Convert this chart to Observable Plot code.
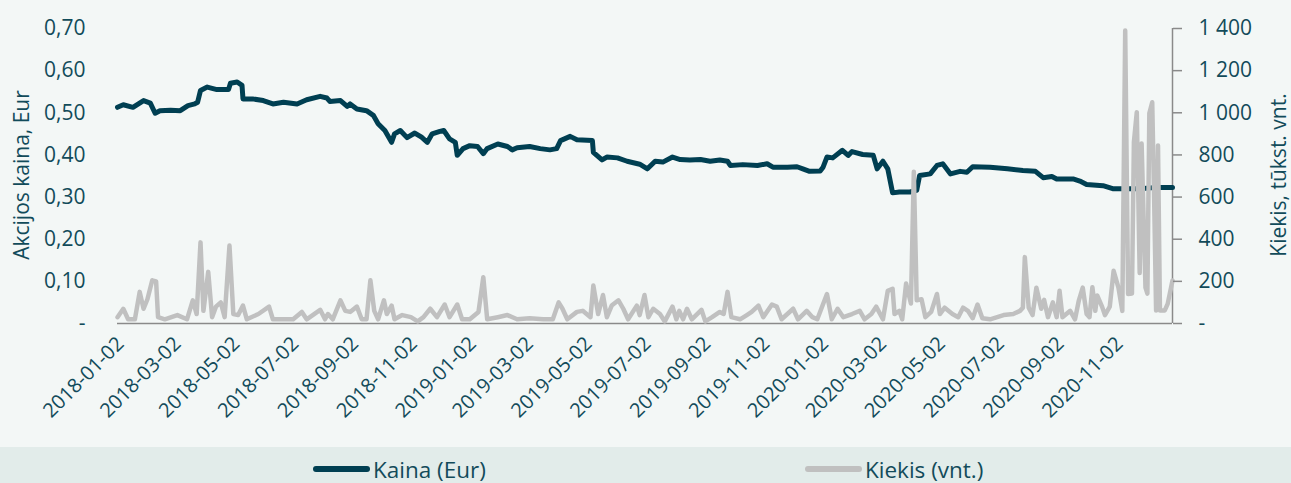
<!DOCTYPE html>
<html><head><meta charset="utf-8">
<script src="https://cdn.jsdelivr.net/npm/d3@7"></script>
<script src="https://cdn.jsdelivr.net/npm/@observablehq/plot@0.6"></script>
<style>
html,body{margin:0;padding:0;background:#f3f7f6;}
#wrap{position:relative;width:1291px;height:483px;overflow:hidden;font-family:"Open Sans",sans-serif;color:#124b5a;}
#chart svg{display:block;background:transparent;}
#legend{position:absolute;left:0;top:447px;width:1291px;height:36px;background:#e2ecea;}
.item{position:absolute;top:4px;height:36px;display:flex;align-items:center;font-size:22.5px;white-space:nowrap;}
.sw{width:57px;height:6px;border-radius:3px;margin-right:3px;}
.ytitle{position:absolute;white-space:nowrap;font-size:21px;line-height:1;transform:translate(-50%,-50%) rotate(-90deg);}
</style></head>
<body><div id="wrap"><div id="chart"></div>
<div class="ytitle" id="tl" style="left:21px;top:175px"></div>
<div class="ytitle" id="tr" style="left:1278px;top:175px"></div>
<div id="legend"></div></div>
<script>
// ---- data ----
const seriesNames = ["Kaina (Eur)", "Kiekis (vnt.)"];
const leftTitle = "Akcijos kaina, Eur";
const rightTitle = "Kiekis, tūkst. vnt.";
const xTickDates = ["2018-01-02","2018-03-02","2018-05-02","2018-07-02","2018-09-02","2018-11-02","2019-01-02","2019-03-02","2019-05-02","2019-07-02","2019-09-02","2019-11-02","2020-01-02","2020-03-02","2020-05-02","2020-07-02","2020-09-02","2020-11-02"];
const xDomain = ["2018-01-02","2020-12-30"];
const priceTicks = [0,0.1,0.2,0.3,0.4,0.5,0.6,0.7];
const volumeTicks = [0,200,400,600,800,1000,1200,1400];

const priceDates = ["2018-01-02","2018-01-08","2018-01-18","2018-01-29","2018-02-05","2018-02-10","2018-02-15","2018-02-26","2018-03-08","2018-03-16","2018-03-23","2018-03-26","2018-03-29","2018-04-05","2018-04-15","2018-04-27","2018-04-29","2018-05-06","2018-05-11","2018-05-12","2018-05-22","2018-06-02","2018-06-12","2018-06-23","2018-07-07","2018-07-17","2018-07-31","2018-08-07","2018-08-10","2018-08-21","2018-08-28","2018-08-31","2018-09-07","2018-09-17","2018-09-24","2018-09-29","2018-10-06","2018-10-13","2018-10-16","2018-10-22","2018-10-29","2018-11-06","2018-11-13","2018-11-19","2018-11-24","2018-12-02","2018-12-06","2018-12-12","2018-12-18","2018-12-20","2018-12-26","2019-01-02","2019-01-10","2019-01-16","2019-01-20","2019-01-31","2019-02-10","2019-02-15","2019-02-20","2019-03-05","2019-03-16","2019-03-26","2019-04-02","2019-04-06","2019-04-16","2019-04-23","2019-05-09","2019-05-10","2019-05-19","2019-05-24","2019-06-04","2019-06-14","2019-06-27","2019-07-05","2019-07-13","2019-07-21","2019-07-31","2019-08-08","2019-08-18","2019-08-29","2019-09-08","2019-09-18","2019-09-26","2019-09-29","2019-10-12","2019-10-27","2019-11-06","2019-11-12","2019-11-27","2019-12-07","2019-12-13","2019-12-20","2019-12-31","2020-01-03","2020-01-07","2020-01-13","2020-01-23","2020-01-29","2020-02-02","2020-02-13","2020-02-24","2020-02-28","2020-03-05","2020-03-10","2020-03-15","2020-03-22","2020-04-02","2020-04-09","2020-04-12","2020-04-23","2020-04-30","2020-05-06","2020-05-14","2020-05-24","2020-05-31","2020-06-06","2020-06-24","2020-07-12","2020-07-28","2020-08-10","2020-08-18","2020-08-27","2020-09-01","2020-09-18","2020-09-25","2020-10-02","2020-10-19","2020-10-29","2020-11-09","2020-11-26","2020-12-14","2020-12-30"];
const priceValues = [0.513,0.519,0.513,0.529,0.523,0.499,0.505,0.506,0.505,0.517,
0.521,0.525,0.553,0.561,0.555,0.555,0.570,0.573,0.565,0.533,
0.533,0.529,0.521,0.525,0.521,0.531,0.539,0.535,0.527,0.529,
0.515,0.521,0.509,0.505,0.494,0.474,0.458,0.430,0.450,0.458,
0.441,0.452,0.442,0.430,0.450,0.456,0.458,0.438,0.430,0.399,
0.415,0.422,0.420,0.403,0.415,0.426,0.420,0.412,0.417,0.420,
0.415,0.412,0.415,0.434,0.444,0.436,0.434,0.406,0.388,0.395,
0.393,0.385,0.378,0.367,0.385,0.383,0.395,0.389,0.388,0.389,
0.385,0.388,0.385,0.375,0.377,0.375,0.379,0.371,0.371,0.372,
0.367,0.361,0.362,0.371,0.395,0.393,0.411,0.399,0.408,0.401,
0.399,0.367,0.385,0.367,0.310,0.312,0.312,0.316,0.351,0.355,
0.375,0.379,0.355,0.361,0.359,0.372,0.371,0.367,0.363,0.361,
0.346,0.349,0.343,0.343,0.338,0.330,0.327,0.320,0.320,0.320,
0.323,0.323];

const volumeDates = ["2018-01-02","2018-01-08","2018-01-13","2018-01-20","2018-01-25","2018-01-29","2018-02-02","2018-02-07","2018-02-11","2018-02-13","2018-02-20","2018-03-05","2018-03-15","2018-03-21","2018-03-25","2018-03-29","2018-04-01","2018-04-06","2018-04-10","2018-04-14","2018-04-19","2018-04-23","2018-04-28","2018-05-02","2018-05-07","2018-05-12","2018-05-16","2018-05-28","2018-06-08","2018-06-12","2018-06-23","2018-07-03","2018-07-12","2018-07-17","2018-07-31","2018-08-05","2018-08-08","2018-08-13","2018-08-21","2018-08-26","2018-08-31","2018-09-07","2018-09-12","2018-09-17","2018-09-21","2018-09-25","2018-09-29","2018-10-05","2018-10-08","2018-10-13","2018-10-16","2018-10-24","2018-11-02","2018-11-09","2018-11-15","2018-11-22","2018-11-29","2018-12-07","2018-12-12","2018-12-20","2018-12-25","2019-01-02","2019-01-11","2019-01-16","2019-01-20","2019-01-31","2019-02-10","2019-02-20","2019-03-05","2019-03-19","2019-03-29","2019-04-04","2019-04-08","2019-04-13","2019-04-23","2019-04-29","2019-05-07","2019-05-10","2019-05-15","2019-05-20","2019-05-24","2019-05-29","2019-06-05","2019-06-10","2019-06-15","2019-06-24","2019-06-27","2019-07-02","2019-07-06","2019-07-11","2019-07-18","2019-07-23","2019-07-31","2019-08-04","2019-08-07","2019-08-11","2019-08-15","2019-08-20","2019-08-30","2019-09-03","2019-09-10","2019-09-18","2019-09-22","2019-09-26","2019-09-30","2019-10-09","2019-10-16","2019-10-21","2019-10-28","2019-11-02","2019-11-11","2019-11-16","2019-11-21","2019-11-27","2019-12-03","2019-12-08","2019-12-17","2019-12-23","2019-12-28","2020-01-07","2020-01-12","2020-01-18","2020-01-24","2020-02-02","2020-02-10","2020-02-15","2020-02-22","2020-02-27","2020-03-05","2020-03-10","2020-03-15","2020-03-17","2020-03-22","2020-03-25","2020-03-29","2020-04-03","2020-04-06","2020-04-09","2020-04-14","2020-04-18","2020-04-24","2020-04-30","2020-05-03","2020-05-08","2020-05-16","2020-05-22","2020-05-27","2020-06-01","2020-06-06","2020-06-11","2020-06-16","2020-06-24","2020-07-08","2020-07-18","2020-07-25","2020-07-28","2020-07-30","2020-08-03","2020-08-07","2020-08-11","2020-08-16","2020-08-19","2020-08-23","2020-08-28","2020-09-01","2020-09-04","2020-09-07","2020-09-15","2020-09-20","2020-09-24","2020-09-28","2020-10-02","2020-10-05","2020-10-08","2020-10-11","2020-10-13","2020-10-18","2020-10-21","2020-10-26","2020-10-30","2020-11-04","2020-11-08","2020-11-11","2020-11-14","2020-11-18","2020-11-20","2020-11-23","2020-11-26","2020-11-28","2020-12-02","2020-12-04","2020-12-06","2020-12-09","2020-12-11","2020-12-13","2020-12-15","2020-12-17","2020-12-22","2020-12-25","2020-12-30"];
const volumeValues = [30,70,20,20,150,70,115,205,200,30,20,40,20,110,45,385,60,245,30,80,100,30,370,45,40,85,20,45,80,20,20,20,55,20,65,20,45,20,110,60,55,80,20,20,205,60,20,110,45,85,20,40,30,10,30,70,30,90,30,90,20,20,55,220,20,30,40,20,25,20,20,100,70,20,55,60,30,180,45,135,30,85,110,70,20,85,40,135,30,70,45,10,80,20,60,20,70,20,65,10,30,55,45,150,30,20,40,55,85,30,90,80,20,45,70,20,60,30,20,140,20,70,30,45,60,20,45,80,20,155,165,45,60,20,190,95,720,110,115,30,55,140,45,75,45,30,75,60,25,90,25,20,40,45,60,75,315,75,40,170,70,112,30,100,30,155,30,60,20,110,170,45,30,172,60,133,80,40,80,250,170,60,1390,140,142,860,1003,240,854,171,142,997,1050,584,62,845,62,62,93,204];

// ---- build tables ----
const parse = d3.utcParse("%Y-%m-%d");
const fmtDate = d3.utcFormat("%Y-%m-%d");
const ratio = 0.7 / 1400; // volume axis (right) mapped onto price axis (left)
const price = priceDates.map((d, i) => ({date: parse(d), value: priceValues[i]}));
const volume = volumeDates.map((d, i) => ({date: parse(d), value: volumeValues[i]}));
const textColor = "#124b5a";
const priceColor = "#003f52";
const volColor = "#c0c0c0";
const axisGrey = "#8a8a8a";
const endDate = parse(xDomain[1]);

const spaced = v => d3.format(",")(v).replace(/,/g, "\u00a0");

const chart = Plot.plot({
  width: 1291,
  height: 443,
  marginLeft: 117,
  marginRight: 119,
  marginTop: 28,
  marginBottom: 120,
  style: {fontFamily: "'Open Sans', sans-serif", background: "transparent", color: textColor},
  x: {type: "utc", domain: xDomain.map(parse)},
  y: {domain: [0, 0.7]},
  marks: [
    Plot.ruleY([0], {stroke: axisGrey, strokeWidth: 1.5}),
    Plot.ruleX([endDate], {stroke: axisGrey, strokeWidth: 1.5}),
    Plot.lineY(price, {x: "date", y: "value", stroke: priceColor, strokeWidth: 5, strokeLinejoin: "round", strokeLinecap: "round"}),
    Plot.lineY(volume, {x: "date", y: d => d.value * ratio, stroke: volColor, strokeWidth: 4.5, strokeLinejoin: "round", strokeLinecap: "round"}),
    Plot.axisY(priceTicks, {anchor: "left", tickSize: 0, tickPadding: 32, fontSize: 21, fill: textColor, label: null,
      tickFormat: d => d === 0 ? "-" : d.toFixed(2).replace(".", ",")}),
    Plot.axisY(volumeTicks.map(v => v * ratio), {anchor: "right", tickSize: 9, tickPadding: 17, stroke: axisGrey, strokeWidth: 1.5, fontSize: 21, fill: textColor, label: null,
      tickFormat: d => { const v = Math.round(d / ratio); return v === 0 ? "-" : spaced(v); }}),
    Plot.axisX(xTickDates.map(parse), {anchor: "bottom", tickSize: 0, tickPadding: 17, tickRotate: -45, fontSize: 20, fill: textColor, label: null,
      dx: 3, tickFormat: fmtDate})
  ]
});
document.getElementById("chart").appendChild(chart);
document.getElementById("tl").textContent = leftTitle;
document.getElementById("tr").textContent = rightTitle;

// legend
const legend = document.getElementById("legend");
const legendPos = [313, 805];
seriesNames.forEach((name, i) => {
  const it = document.createElement("div");
  it.className = "item";
  it.style.left = legendPos[i] + "px";
  const sw = document.createElement("span");
  sw.className = "sw";
  sw.style.background = i === 0 ? priceColor : volColor;
  const tx = document.createElement("span");
  tx.textContent = name;
  it.appendChild(sw); it.appendChild(tx);
  legend.appendChild(it);
});
</script>
</body></html>
